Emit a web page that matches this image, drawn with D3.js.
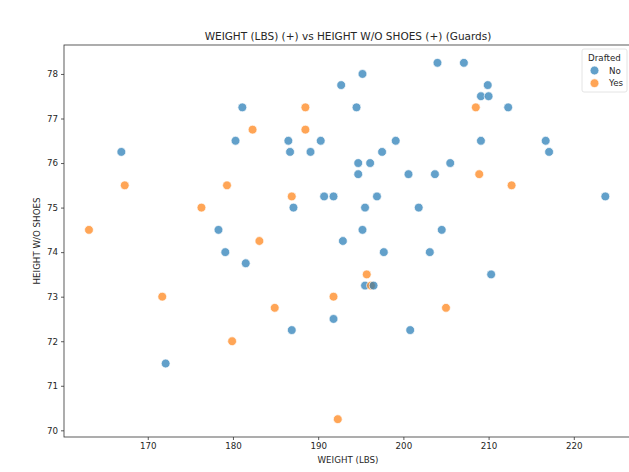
<!DOCTYPE html>
<html>
<head>
<meta charset="utf-8">
<script src="https://cdn.jsdelivr.net/npm/d3@7"></script>
<style>
  html, body { margin: 0; padding: 0; background: #fff; }
  svg { display: block; font-family: "DejaVu Sans", sans-serif; }
  .tick text { fill: #262626; }
</style>
</head>
<body>
<svg id="chart" width="629" height="472"></svg>
<script>
// weight (lbs), height w/o shoes (in) for undrafted guards
const noWeight = [166.9, 181.1, 180.3, 178.3, 179.1, 181.5, 172.1, 204.0, 195.2, 192.7,
  194.5, 186.5, 190.3, 199.1, 186.7, 189.1, 197.5, 194.7, 196.1, 194.7,
  200.6, 203.7, 190.7, 191.8, 196.9, 187.1, 195.5, 201.8, 195.2, 204.5,
  192.9, 197.7, 203.1, 195.5, 191.8, 186.9, 200.8, 207.1, 209.9, 209.1,
  210.0, 212.3, 209.1, 216.7, 217.1, 205.5, 223.7, 210.3];
const noHeight = [76.25, 77.25, 76.5, 74.5, 74.0, 73.75, 71.5, 78.25, 78.0, 77.75,
  77.25, 76.5, 76.5, 76.5, 76.25, 76.25, 76.25, 76.0, 76.0, 75.75,
  75.75, 75.75, 75.25, 75.25, 75.25, 75.0, 75.0, 75.0, 74.5, 74.5,
  74.25, 74.0, 74.0, 73.25, 72.5, 72.25, 72.25, 78.25, 77.75, 77.5,
  77.5, 77.25, 76.5, 76.5, 76.25, 76.0, 75.25, 73.5];

// drafted guards
const yesWeight = [167.3, 163.1, 182.3, 179.3, 176.3, 183.1, 171.7, 179.9, 188.5, 188.5,
  186.9, 195.7, 196.2, 191.8, 184.9, 205.0, 192.3, 208.5, 208.9, 212.7];
const yesHeight = [75.5, 74.5, 76.75, 75.5, 75.0, 74.25, 73.0, 72.0, 77.25, 76.75,
  75.25, 73.5, 73.25, 73.0, 72.75, 72.75, 70.25, 77.25, 75.75, 75.5];

// overlapping blue point sits on top of the orange one
const overlapBlue = { w: 196.5, h: 73.25 };

const xTicks = [170, 180, 190, 200, 210, 220];
const yTicks = [70, 71, 72, 73, 74, 75, 76, 77, 78];
const groups = ['No', 'Yes'];
const colors = ['#1f77b4', '#ff7f0e'];

const svg = d3.select('#chart');
const plot = { left: 64, right: 632, top: 45, bottom: 437 };

const x = d3.scaleLinear().domain([160.17, 226.83]).range([plot.left, plot.right]);
const y = d3.scaleLinear().domain([69.85, 78.65]).range([plot.bottom, plot.top]);

const points = [];
noWeight.forEach((w, i) => points.push({ w, h: noHeight[i], g: 0 }));
yesWeight.forEach((w, i) => points.push({ w, h: yesHeight[i], g: 1 }));
points.push({ ...overlapBlue, g: 0 });

// spines
svg.append('rect')
  .attr('x', plot.left).attr('y', plot.top)
  .attr('width', plot.right - plot.left).attr('height', plot.bottom - plot.top)
  .attr('fill', 'none').attr('stroke', '#333').attr('stroke-width', 0.8);

const xAxis = svg.append('g')
  .attr('transform', `translate(0,${plot.bottom})`)
  .call(d3.axisBottom(x).tickValues(xTicks).tickSize(3).tickPadding(3).tickFormat(d3.format('d')));
const yAxis = svg.append('g')
  .attr('transform', `translate(${plot.left},0)`)
  .call(d3.axisLeft(y).tickValues(yTicks).tickSize(3).tickPadding(3).tickFormat(d3.format('d')));

[xAxis, yAxis].forEach((ax) => {
  ax.select('.domain').remove();
  ax.selectAll('.tick line').attr('stroke', '#333').attr('stroke-width', 0.8);
  ax.selectAll('.tick text').attr('font-size', 8.7).attr('font-family', '"DejaVu Sans", sans-serif');
});

svg.append('g')
  .selectAll('circle')
  .data(points)
  .join('circle')
  .attr('cx', (d) => x(d.w))
  .attr('cy', (d) => y(d.h))
  .attr('r', 4.4)
  .attr('fill', (d) => colors[d.g])
  .attr('fill-opacity', 0.7)
  .attr('stroke', '#fff')
  .attr('stroke-width', 0.7);

svg.append('text')
  .attr('x', (plot.left + plot.right) / 2).attr('y', 40)
  .attr('text-anchor', 'middle').attr('font-size', 10.5).attr('fill', '#262626')
  .text('WEIGHT (LBS) (+) vs HEIGHT W/O SHOES (+) (Guards)');

svg.append('text')
  .attr('x', (plot.left + plot.right) / 2).attr('y', 463)
  .attr('text-anchor', 'middle').attr('font-size', 8.7).attr('fill', '#262626')
  .text('WEIGHT (LBS)');

svg.append('text')
  .attr('transform', `translate(40,${(plot.top + plot.bottom) / 2}) rotate(-90)`)
  .attr('text-anchor', 'middle').attr('font-size', 8.7).attr('fill', '#262626')
  .text('HEIGHT W/O SHOES');

// legend
const legend = svg.append('g').attr('transform', 'translate(582,49)');
legend.append('rect')
  .attr('width', 45).attr('height', 43).attr('rx', 2)
  .attr('fill', '#fff').attr('fill-opacity', 0.8)
  .attr('stroke', '#ddd').attr('stroke-width', 0.8);
legend.append('text')
  .attr('x', 22.5).attr('y', 11.5).attr('text-anchor', 'middle')
  .attr('font-size', 8.7).attr('fill', '#262626').text('Drafted');
const items = legend.selectAll('.item').data(groups).join('g')
  .attr('class', 'item')
  .attr('transform', (d, i) => `translate(0,${21.5 + i * 12.7})`);
items.append('circle')
  .attr('cx', 12.5).attr('r', 4.4)
  .attr('fill', (d, i) => colors[i]).attr('fill-opacity', 0.7)
  .attr('stroke', '#fff').attr('stroke-width', 0.7);
items.append('text')
  .attr('x', 27).attr('dy', '0.35em')
  .attr('font-size', 8.7).attr('fill', '#262626').text((d) => d);
</script>
</body>
</html>
